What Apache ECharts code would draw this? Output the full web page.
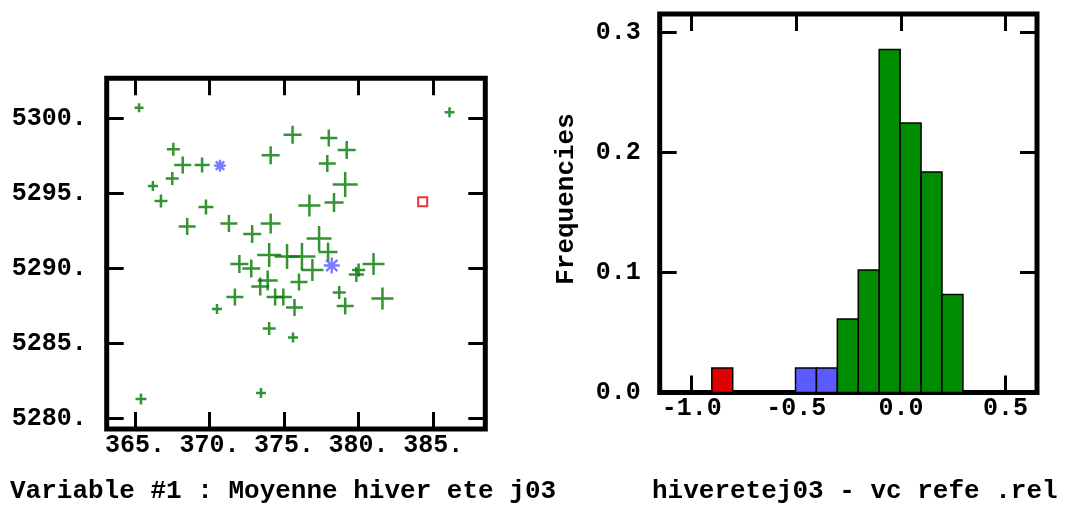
<!DOCTYPE html>
<html>
<head>
<meta charset="utf-8">
<script src="https://cdn.jsdelivr.net/npm/echarts@6/dist/echarts.min.js"></script>
<style>html,body{margin:0;padding:0;background:#fff;}#c{width:1072px;height:506px;}</style>
</head>
<body>
<div id="c"></div>
<script>
// ---- Scatter (left panel) data: [x, y, markerSize] ----
const greenPoints = [
  [365.27, 5300.7, 9], [367.57, 5297.95, 13], [368.2, 5296.9, 17], [369.5, 5296.9, 15],
  [367.5, 5296.0, 13], [366.2, 5295.5, 10], [366.74, 5294.5, 13], [369.76, 5294.1, 15],
  [368.5, 5292.8, 17], [371.3, 5293.0, 17], [372.86, 5292.3, 18], [374.1, 5293.0, 20],
  [375.57, 5298.9, 18], [374.1, 5297.55, 18], [378.0, 5298.7, 17], [379.2, 5297.9, 18],
  [377.9, 5297.0, 17], [379.1, 5295.6, 25], [376.7, 5294.2, 22], [378.35, 5294.4, 19],
  [386.1, 5300.4, 10], [377.35, 5292.0, 25], [377.95, 5291.1, 19], [381.0, 5290.3, 22],
  [380.0, 5289.9, 13], [379.85, 5289.6, 15], [378.7, 5288.4, 13], [379.1, 5287.5, 17],
  [381.6, 5288.0, 22], [375.6, 5285.4, 10], [375.7, 5287.4, 17], [376.0, 5289.1, 17],
  [374.0, 5290.9, 24], [375.2, 5290.8, 25], [376.2, 5290.8, 27], [376.9, 5289.9, 22],
  [372.0, 5290.3, 18], [372.8, 5290.0, 18], [373.9, 5289.2, 20], [373.4, 5288.8, 18],
  [374.4, 5288.1, 17], [374.95, 5288.1, 17], [371.7, 5288.1, 17], [370.5, 5287.3, 10],
  [374.0, 5286.0, 13], [373.45, 5281.7, 10], [365.4, 5281.3, 11]
];
const bluePoints = [[370.7, 5296.85, 12], [378.2, 5290.2, 16]];
const redPoints = [[384.3, 5294.45, 9]];
const scatterXTicks = [365, 370, 375, 380, 385];
const scatterYTicks = [5280, 5285, 5290, 5295, 5300];

// ---- Histogram (right panel) data ----
const binStarts = [-0.904, -0.504, -0.404, -0.304, -0.204, -0.104, -0.004, 0.096, 0.196];
const binWidth = 0.1;
const binCounts = [1, 1, 1, 3, 5, 14, 11, 9, 4];
const binGroups = [0, 1, 1, 2, 2, 2, 2, 2, 2]; // 0 red, 1 blue, 2 green
const totalCount = 49;
const histXTicks = [-1.0, -0.5, 0.0, 0.5];
const histYTicks = [0.0, 0.1, 0.2, 0.3];

const GREEN = '#007800', BLUE = '#5a5aff', RED = '#e00000';
const BAR_GREEN = '#008c00';
const groupColors = [RED, BLUE, BAR_GREEN];
const FONT = '"Liberation Mono", "DejaVu Sans Mono", monospace';

const histData = binStarts.map((s, i) => [s, s + binWidth, binCounts[i] / totalCount, binGroups[i]]);

const chart = echarts.init(document.getElementById('c'), null, {renderer: 'canvas'});

const tickStyle = {show: true, inside: true, length: 17, lineStyle: {color: '#000', width: 3}};
const lblStyle = {color: '#000', fontFamily: FONT, fontWeight: 'bold', fontSize: 25};

function makeAxis(gridIndex, pos, min, max, ticks, labels, fmt, margin) {
  return {
    type: 'value', gridIndex, position: pos, min, max,
    axisLine: {show: false, onZero: false}, splitLine: {show: false},
    axisTick: Object.assign({}, tickStyle, {customValues: ticks}),
    axisLabel: labels
      ? Object.assign({}, lblStyle, {customValues: ticks, margin: margin, formatter: fmt})
      : {show: false}
  };
}
const fmtScatter = v => String(Math.round(v)) + '.';
const fmtHist = v => v.toFixed(1);

const plusPath = 'path://M5 0V10M0 5H10';
const starPath = 'path://M5 0V10M0 5H10M1.5 1.5L8.5 8.5M8.5 1.5L1.5 8.5';

chart.setOption({
  animation: false,
  backgroundColor: '#fff',
  grid: [
    {left: 106.7, top: 78.3, width: 378.6, height: 350.7, show: true, borderColor: '#000', borderWidth: 5, backgroundColor: 'transparent'},
    {left: 659.7, top: 14, width: 377.3, height: 378.5, show: true, borderColor: '#000', borderWidth: 5, backgroundColor: 'transparent'}
  ],
  xAxis: [
    makeAxis(0, 'bottom', 363.1, 388.5, scatterXTicks, true, fmtScatter, 4),
    makeAxis(0, 'top', 363.1, 388.5, scatterXTicks, false),
    makeAxis(1, 'bottom', -1.153, 0.65, histXTicks, true, fmtHist, 4),
    makeAxis(1, 'top', -1.153, 0.65, histXTicks, false)
  ],
  yAxis: [
    makeAxis(0, 'left', 5279.3, 5302.67, scatterYTicks, true, fmtScatter, 20),
    makeAxis(0, 'right', 5279.3, 5302.67, scatterYTicks, false),
    makeAxis(1, 'left', 0, 0.3154, histYTicks, true, fmtHist, 19),
    makeAxis(1, 'right', 0, 0.3154, histYTicks, false)
  ],
  series: [
    {
      type: 'scatter', xAxisIndex: 0, yAxisIndex: 0, data: greenPoints,
      symbol: plusPath, symbolSize: v => v[2],
      itemStyle: {color: 'rgba(0,0,0,0)', borderColor: GREEN, borderWidth: 2.5},
      emphasis: {disabled: true}, silent: true
    },
    {
      type: 'scatter', xAxisIndex: 0, yAxisIndex: 0, data: bluePoints,
      symbol: starPath, symbolSize: v => v[2],
      itemStyle: {color: 'rgba(0,0,0,0)', borderColor: BLUE, borderWidth: 2.4},
      emphasis: {disabled: true}, silent: true
    },
    {
      type: 'scatter', xAxisIndex: 0, yAxisIndex: 0, data: redPoints,
      symbol: 'rect', symbolSize: v => v[2],
      itemStyle: {color: 'rgba(0,0,0,0)', borderColor: RED, borderWidth: 2},
      emphasis: {disabled: true}, silent: true
    },
    {
      type: 'custom', xAxisIndex: 2, yAxisIndex: 2, data: histData,
      renderItem: function (params, api) {
        const p0 = api.coord([api.value(0), api.value(2)]);
        const p1 = api.coord([api.value(1), 0]);
        return {
          type: 'rect',
          shape: {x: p0[0], y: p0[1], width: p1[0] - p0[0], height: p1[1] - p0[1]},
          style: {fill: groupColors[api.value(3)], stroke: '#000', lineWidth: 1.5}
        };
      },
      silent: true
    }
  ],
  graphic: [
    {type: 'text', x: 566, y: 199, rotation: Math.PI / 2,
     style: {text: 'Frequencies', font: 'bold 26px ' + FONT, fill: '#000', align: 'center', verticalAlign: 'middle'}},
    {type: 'text', left: 10, top: 478,
     style: {text: 'Variable #1 : Moyenne hiver ete j03', font: 'bold 26px ' + FONT, fill: '#000'}},
    {type: 'text', left: 652, top: 478,
     style: {text: 'hiveretej03 - vc refe .rel', font: 'bold 26px ' + FONT, fill: '#000'}}
  ]
});
</script>
</body>
</html>
